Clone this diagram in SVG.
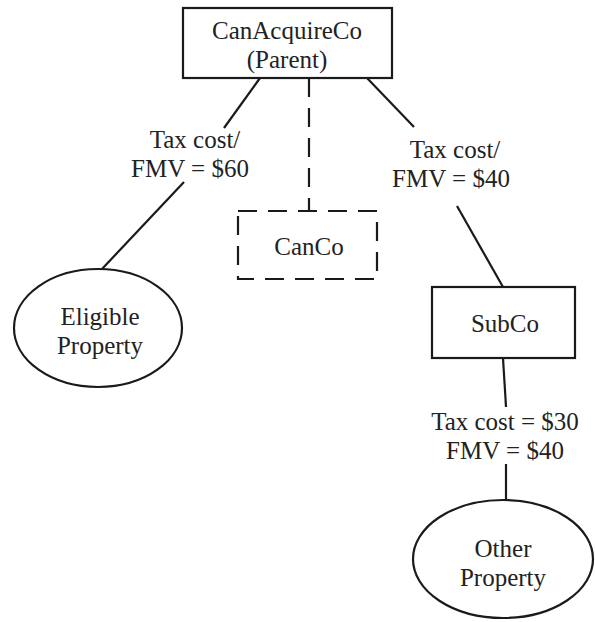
<svg xmlns="http://www.w3.org/2000/svg" width="595" height="622" viewBox="0 0 595 622">
<style>
.box{fill:#fff;stroke:#1a1a1a;stroke-width:2.2}
.dash{fill:none;stroke:#1a1a1a;stroke-width:2.2;stroke-dasharray:19 11}
.ln{fill:none;stroke:#1a1a1a;stroke-width:2.2}
text{font-family:"Liberation Serif","Times New Roman",serif;font-size:25px;fill:#222;text-anchor:middle}
</style>
<rect width="595" height="622" fill="#fff"/>
<g id="connectors">
<line class="ln" x1="260" y1="78" x2="224" y2="128"/>
<line class="ln" x1="184" y1="182" x2="102" y2="269"/>
<line class="dash" x1="309" y1="78" x2="309" y2="211"/>
<line class="ln" x1="367" y1="78" x2="414" y2="127"/>
<line class="ln" x1="457" y1="206" x2="503" y2="287"/>
<line class="ln" x1="503" y1="358" x2="506" y2="407"/>
<line class="ln" x1="506" y1="464" x2="506" y2="500"/>
</g>
<g id="labels">
<text x="195" y="148">Tax cost/</text>
<text x="190" y="177">FMV = $60</text>
<text x="455" y="158">Tax cost/</text>
<text x="451" y="187">FMV = $40</text>
<text x="505" y="430">Tax cost = $30</text>
<text x="505" y="459">FMV = $40</text>
</g>
<g id="parent">
<rect class="box" x="183" y="8" width="209" height="70"/>
<text x="287" y="39">CanAcquireCo</text>
<text x="287" y="68">(Parent)</text>
</g>
<g id="canco">
<rect class="dash" x="238" y="211" width="139" height="68"/>
<text x="309" y="255">CanCo</text>
</g>
<g id="eligible">
<ellipse class="box" cx="98" cy="328" rx="84" ry="59"/>
<text x="100" y="325">Eligible</text>
<text x="100" y="354">Property</text>
</g>
<g id="subco">
<rect class="box" x="432" y="287" width="143" height="71"/>
<text x="505" y="332">SubCo</text>
</g>
<g id="other">
<ellipse class="box" cx="503" cy="559" rx="90" ry="59"/>
<text x="503" y="557">Other</text>
<text x="503" y="586">Property</text>
</g>
</svg>
